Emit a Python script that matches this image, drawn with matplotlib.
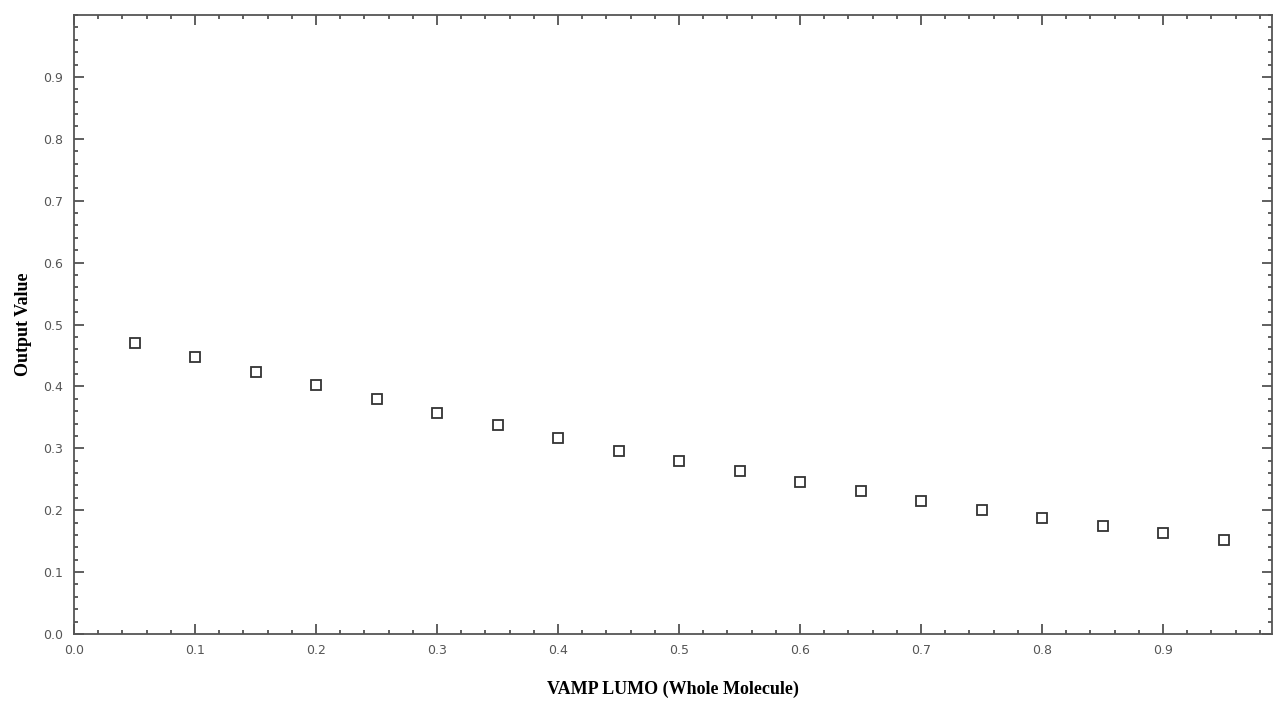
import matplotlib
matplotlib.use("Agg")
import matplotlib.pyplot as plt
from matplotlib.ticker import MultipleLocator, FixedFormatter, FixedLocator

x_vals = [0.05, 0.10, 0.15, 0.20, 0.25, 0.30, 0.35, 0.40, 0.45, 0.50,
          0.55, 0.60, 0.65, 0.70, 0.75, 0.80, 0.85, 0.90, 0.95]
y_vals = [0.470, 0.447, 0.423, 0.402, 0.380, 0.357, 0.338, 0.317, 0.296, 0.279,
          0.263, 0.246, 0.231, 0.215, 0.200, 0.187, 0.174, 0.163, 0.152]
x_ticks = [0.0, 0.1, 0.2, 0.3, 0.4, 0.5, 0.6, 0.7, 0.8, 0.9]
x_ticklabels = ["0.0", "0.1", "0.2", "0.3", "0.4", "0.5", "0.6", "0.7", "0.8", "0.9"]
y_ticks = [0.0, 0.1, 0.2, 0.3, 0.4, 0.5, 0.6, 0.7, 0.8, 0.9]
y_ticklabels = ["0.0", "0.1", "0.2", "0.3", "0.4", "0.5", "0.6", "0.7", "0.8", "0.9"]

fig = plt.figure(figsize=(12.74, 7.01), dpi=100)
ax = fig.add_axes([74/1274, 1 - 634/701, (1272-74)/1274, (634-15)/701])
ax.plot(x_vals, y_vals, linestyle="none", marker="s", markersize=7,
        markerfacecolor="white", markeredgecolor="#333333", markeredgewidth=1.3)
ax.set_xlim(0, 0.99)
ax.set_ylim(0, 1.0)
ax.xaxis.set_major_locator(FixedLocator(x_ticks))
ax.xaxis.set_major_formatter(FixedFormatter(x_ticklabels))
ax.yaxis.set_major_locator(FixedLocator(y_ticks))
ax.yaxis.set_major_formatter(FixedFormatter(y_ticklabels))
ax.xaxis.set_minor_locator(MultipleLocator(0.02))
ax.yaxis.set_minor_locator(MultipleLocator(0.02))
ax.tick_params(which="both", direction="in", top=True, right=True, colors="#444444",
               labelcolor="#555555", labelsize=9)
ax.tick_params(which="major", length=7, width=1.2)
ax.tick_params(which="minor", length=3, width=1.2)
ax.tick_params(axis="y", which="major", pad=8)
ax.tick_params(axis="x", which="major", pad=7)
for s in ax.spines.values():
    s.set_color("#555555")
    s.set_linewidth(1.3)
ax.set_xlabel("VAMP LUMO (Whole Molecule)", family="Liberation Serif", fontweight="bold",
              fontsize=13, labelpad=17)
ax.set_ylabel("Output Value", family="Liberation Serif", fontweight="bold",
              fontsize=13, labelpad=8)
fig.savefig("out.png", dpi=100)
